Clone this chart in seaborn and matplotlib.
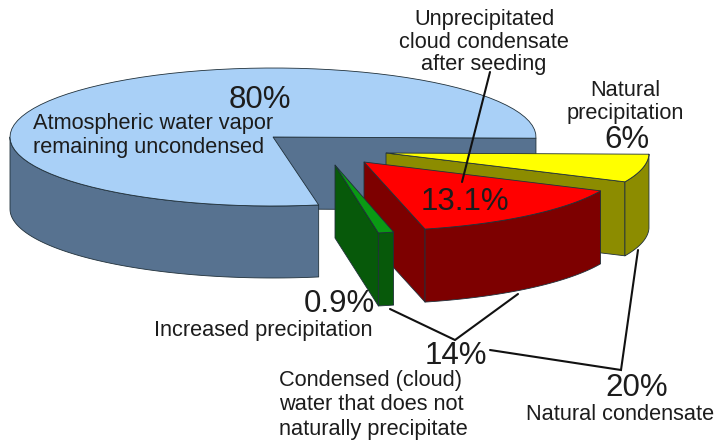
import numpy as np
import matplotlib
matplotlib.use("Agg")
import matplotlib.pyplot as plt
import seaborn as sns

# --- chart data ---
slice_names = ["Atmospheric water vapor", "Natural precipitation", "Unprecipitated cloud condensate", "Increased precipitation"]
slice_values = [80.0, 6.0, 13.1, 0.9]
top_colors = ["#a9d0f7", "#ffff00", "#ff0000", "#0a9a14"]
side_colors = ["#577290", "#8c8c00", "#7d0000", "#07590a"]
pct_labels = ["80%", "6%", "13.1%", "0.9%", "14%", "20%"]

# --- layout of the projected pie (pixels) ---
RX, RY = 263, 69
CENTRE = (273, 137)
DEPTH = [72, 74, 73, 73]
OFFSET = [(0, 0), (113, 16), (91, 25), (62, 28)]
RX_SCALE = [1.0, 1.0, 0.99, 0.95]
START = 1.0
FRONT_STRETCH = 79 / 72  # the tilted view widens the front wedge
BIG_STRETCH = 281 / 288

sns.set_theme(style="white")
plt.rcParams["font.family"] = ["Liberation Sans", "DejaVu Sans"]
fig, ax = plt.subplots(figsize=(7.15, 4.4), dpi=100)
ax.set_position([0, 0, 1, 1])
ax.set_xlim(0, 715)
ax.set_ylim(440, 0)
ax.axis("off")

EDGE = "#20303a"


def rim(apex, a0, a1, k=1.0, n=80):
    t = np.radians(np.linspace(a0, a1, n))
    return apex[0] + k * RX * np.cos(t), apex[1] + RY * np.sin(t)


def band(xs, ys, depth, color, z):
    px = np.r_[xs, xs[::-1]]
    py = np.r_[ys, ys[::-1] + depth]
    ax.fill(px, py, facecolor=color, edgecolor=EDGE, lw=0.6, zorder=z, joinstyle="round")


def cut_face(apex, angle, depth, color, z, k=1.0):
    x, y = rim(apex, angle, angle, k, 1)
    band(np.array([apex[0], x[0]]), np.array([apex[1], y[0]]), depth, color, z)


def top_face(apex, a0, a1, color, z, k=1.0):
    x, y = rim(apex, a0, a1, k)
    ax.fill(np.r_[apex[0], x], np.r_[apex[1], y], facecolor=color, edgecolor=EDGE, lw=0.6, zorder=z)


# large slice: swept from the front corner, round the back, to the right corner
big_sweep = slice_values[0] / 100 * 360 * BIG_STRETCH
big_end = START + 360
big_start = big_end - big_sweep
cut_face(CENTRE, big_end, DEPTH[0], side_colors[0], 1)
x, y = rim(CENTRE, big_start, 180)
band(x, y, DEPTH[0], side_colors[0], 2)
top_face(CENTRE, big_start, big_end, top_colors[0], 3)

# exploded slices, swept clockwise from the right
angle = START
for i in range(1, 4):
    sweep = slice_values[i] / 100 * 360 * FRONT_STRETCH
    apex = (CENTRE[0] + OFFSET[i][0], CENTRE[1] + OFFSET[i][1])
    z = 3 + i * 3
    k = RX_SCALE[i]
    cut_face(apex, angle + sweep, DEPTH[i], side_colors[i], z, k)
    x, y = rim(apex, angle, angle + sweep, k)
    band(x, y, DEPTH[i], side_colors[i], z + 1)
    top_face(apex, angle, angle + sweep, top_colors[i], z + 2, k)
    angle += sweep

# leader lines
LINE = "#111111"
leaders = [
    ([490, 462], [72, 182]),
    ([390, 455, 518], [309, 340, 294]),
    ([490, 621, 638], [350, 370, 250]),
]
for lx, ly in leaders:
    ax.plot(lx, ly, color=LINE, lw=1.5, zorder=20, solid_joinstyle="miter")

# text
TXT = "#1c1c1c"
LABEL = 15.7
BIG = 22.5
NUDGE = 1.5


def put(x, y, s, size=LABEL, ha="center"):
    ax.text(x, y + NUDGE, s, fontsize=size, ha=ha, va="center", color=TXT, zorder=30, linespacing=1.0)


for y, s in zip([18, 41, 63], ["Unprecipitated", "cloud condensate", "after seeding"]):
    put(484, y, s)
put(260, 98, pct_labels[0], BIG)
put(33, 122, "Atmospheric water vapor", ha="left")
put(33, 146, "remaining uncondensed", ha="left")
put(625, 89, "Natural")
put(625, 112, "precipitation")
put(627, 139, pct_labels[1], BIG)
put(465, 200, pct_labels[2], BIG)
put(339, 303, pct_labels[3], BIG)
put(373, 329, "Increased precipitation", ha="right")
put(456, 355, pct_labels[4], BIG)
for y, s in zip([379, 403, 428], ["Condensed (cloud)", "water that does not", "naturally precipitate"]):
    put(279, y, s, ha="left")
put(637, 387, pct_labels[5], BIG)
put(714, 412.5, "Natural condensate", ha="right")

fig.savefig("out.png", dpi=100)
